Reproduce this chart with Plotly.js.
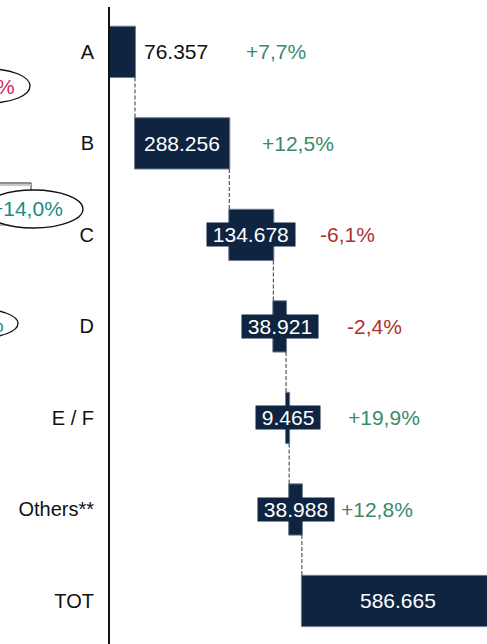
<!DOCTYPE html>
<html>
<head>
<meta charset="utf-8">
<script src="https://cdn.plot.ly/plotly-3.0.1.min.js"></script>
<style>html,body{margin:0;padding:0;background:#fff;}#chart{width:487px;height:644px;}</style>
</head>
<body>
<div id="chart"></div>
<script>
// ---- data ----
const categories = ['A', 'B', 'C', 'D', 'E / F', 'Others**', 'TOT'];
const values = [76357, 288256, 134678, 38921, 9465, 38988, 586665];
const pctChange = [7.7, 12.5, -6.1, -2.4, 19.9, 12.8, null];
const labelStyle = ['outside', 'inside', 'boxed', 'boxed', 'boxed', 'boxed', 'inside'];
// partial side notes (cut off at the left edge of the picture)
const sideNoteText = ['%', '+14,0%', '%'];

// ---- style / layout helpers ----
const W = 487, H = 644, ML = 110, MT = 7;
const PW = W - ML, PH = H - MT;
const NAVY = '#0e2441';
const GREEN = '#3c8a67';
const RED = '#b0302d';
const FONT = 'Arial, "Liberation Sans", sans-serif';
const VSIZE = 21;
const pctLeftPx = [244, 260, 318, 345, 346, 339];
const px2x = p => (p - ML) / PW;
const py2y = p => (H - p) / PH;

function fmtNum(v) {
  return String(v).replace(/\B(?=(\d{3})+(?!\d))/g, '.');
}
function fmtPct(v) {
  return (v > 0 ? '+' : '') + v.toFixed(1).replace('.', ',') + '%';
}

// cumulative positions
const starts = [];
let acc = 0;
values.forEach(v => { starts.push(acc); acc += v; });

const trace = {
  type: 'waterfall',
  orientation: 'h',
  y: categories,
  x: values,
  measure: values.map(() => 'relative'),
  increasing: {marker: {color: NAVY, line: {color: '#6f7d8e', width: 1}}},
  decreasing: {marker: {color: NAVY, line: {color: '#6f7d8e', width: 1}}},
  connector: {mode: 'between', line: {color: '#333333', width: 1, dash: '4px,2px'}},
  hoverinfo: 'none',
  textinfo: 'none'
};

const annotations = [];
categories.forEach((c, i) => {
  const st = labelStyle[i];
  const txt = fmtNum(values[i]);
  if (st === 'outside') {
    annotations.push({xref: 'x', yref: 'y', x: starts[i] + values[i], y: c, text: txt,
      xanchor: 'left', xshift: 7, showarrow: false,
      font: {family: FONT, size: VSIZE, color: '#111111'}});
  } else if (st === 'inside') {
    annotations.push({xref: 'x', yref: 'y', x: starts[i] + values[i] / 2, y: c, text: txt,
      xanchor: 'center', showarrow: false,
      font: {family: FONT, size: VSIZE, color: '#ffffff'}});
  } else {
    annotations.push({xref: 'x', yref: 'y', x: starts[i] + values[i] / 2, y: c,
      text: '\u00a0' + txt + '\u00a0', xanchor: 'center', showarrow: false,
      bgcolor: NAVY, borderpad: 0,
      font: {family: FONT, size: VSIZE, color: '#ffffff'}});
  }
  if (pctChange[i] !== null) {
    annotations.push({xref: 'paper', yref: 'y', x: px2x(pctLeftPx[i]), y: c,
      text: fmtPct(pctChange[i]), xanchor: 'left', showarrow: false,
      font: {family: FONT, size: VSIZE, color: pctChange[i] >= 0 ? GREEN : RED}});
  }
});

// side notes (left, cut off)
const sideNotes = [
  {right: 17, cy: 86, color: '#d42c5c', ell: [-50, 30, 69, 103]},
  {right: 65, cy: 209, color: '#1b8a7f', ell: [-16, 83, 190, 228]},
  {right: 6, cy: 324, color: '#1b8a7f', ell: [-60, 18, 309, 338]}
];
const shapes = [
  {type: 'rect', xref: 'paper', yref: 'paper', x0: px2x(-10), x1: px2x(31), y0: py2y(220), y1: py2y(226),
    fillcolor: '#b5b5b5', line: {width: 0}},
  {type: 'rect', xref: 'paper', yref: 'paper', x0: px2x(-10), x1: px2x(31), y0: py2y(221), y1: py2y(183),
    fillcolor: 'rgba(0,0,0,0)', line: {color: '#222', width: 1}},
  {type: 'rect', xref: 'paper', yref: 'paper', x0: px2x(-10), x1: px2x(31), y0: py2y(186), y1: py2y(184),
    fillcolor: '#c8c8c8', line: {width: 0}}
];
sideNotes.forEach((s, k) => {
  shapes.push({type: 'circle', xref: 'paper', yref: 'paper',
    x0: px2x(s.ell[0]), x1: px2x(s.ell[1]), y0: py2y(s.ell[3]), y1: py2y(s.ell[2]),
    fillcolor: '#ffffff', line: {color: '#111', width: 1.3}});
  annotations.push({xref: 'paper', yref: 'paper', x: px2x(s.right), y: py2y(s.cy),
    text: sideNoteText[k], xanchor: 'right', yanchor: 'middle', showarrow: false,
    font: {family: FONT, size: VSIZE, color: s.color}});
});

const layout = {
  width: W, height: H,
  margin: {l: ML, r: 0, t: MT, b: 0, pad: 0},
  paper_bgcolor: '#ffffff', plot_bgcolor: '#ffffff',
  showlegend: false, hovermode: false,
  waterfallgap: 0.44,
  xaxis: {range: [0, 1152500], showgrid: false, zeroline: false, showticklabels: false,
    showline: false, ticks: ''},
  yaxis: {type: 'category', range: [6.47, -0.49], showgrid: false, zeroline: false,
    showline: true, linecolor: '#111111', linewidth: 2, ticks: '', ticklabelstandoff: 10,
    tickfont: {family: FONT, size: 20, color: '#111111'}},
  shapes: shapes,
  annotations: annotations
};

Plotly.newPlot('chart', [trace], layout, {displayModeBar: false, staticPlot: true});
</script>
</body>
</html>
